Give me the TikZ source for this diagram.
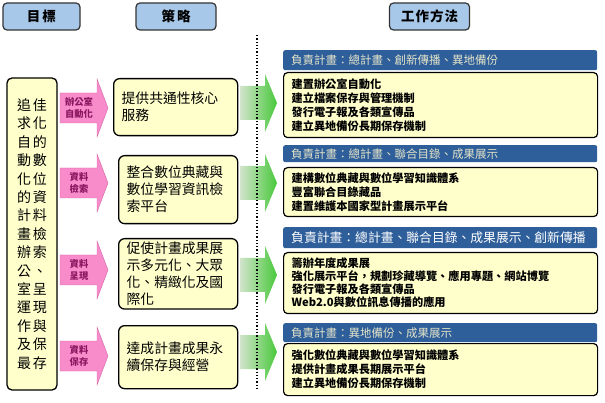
\documentclass[tikz,border=0pt]{standalone}
\usepackage{fontspec}
\setmainfont{Noto Sans CJK TC}

\definecolor{hdrblue}{HTML}{A8C8EA}
\definecolor{paleyellow}{HTML}{FFFFCC}
\definecolor{pinkfill}{HTML}{F88CCB}
\definecolor{pinkline}{HTML}{D465A6}
\definecolor{pinktext}{HTML}{8A1660}
\definecolor{barblue}{HTML}{2F5F9B}
\definecolor{barfg}{HTML}{E4E4C8}
\definecolor{greenpale}{HTML}{D2E4CC}
\definecolor{greendark}{HTML}{48C83A}

\begin{document}
\begin{tikzpicture}[x=1pt,y=-1pt,
    hdr/.style={draw=black!80, line width=1.2pt, rounded corners=4pt, fill=hdrblue,
        minimum height=27pt, font=\fontsize{13.5}{15}\selectfont\bfseries},
    goalbox/.style={draw=black, line width=1.3pt, rounded corners=5pt, fill=paleyellow,
        minimum width=50pt, minimum height=312pt, align=center,
        font=\fontsize{14}{18.4}\selectfont},
    stratbox/.style={draw=black, line width=1.3pt, rounded corners=6pt, fill=paleyellow,
        anchor=north west, align=left, inner xsep=8pt,
        font=\fontsize{13.8}{17}\selectfont},
    pinklabel/.style={text=pinktext, align=center, inner sep=0pt,
        font=\fontsize{9.3}{12}\selectfont\bfseries},
    planbar/.style={fill=barblue, rounded corners=2pt, anchor=north west,
        text width=298pt, inner xsep=8pt, inner ysep=0pt, align=left, text=barfg,
        font=\fontsize{11.5}{13}\selectfont},
    taskbox/.style={draw=black, line width=1.2pt, rounded corners=4pt, fill=paleyellow,
        anchor=north west, text width=298pt, inner xsep=8pt, inner ysep=0pt, align=left,
        font=\fontsize{11.2}{14}\selectfont\bfseries},
]
    \useasboundingbox (0,0) rectangle (605,403);

    % Headers
    \node[hdr, minimum width=77pt] (goalhdr) at (41.5,16.5) {目\hspace{2pt}標};
    \node[hdr, minimum width=80pt] (strathdr) at (176,16.5) {策\hspace{2pt}略};
    \node[hdr, minimum width=80pt] (workhdr) at (429.5,16.5) {工\hspace{1pt}作\hspace{1pt}方\hspace{1pt}法};

    % Goal
    \node[goalbox] (goal) at (32,234) {追\hspace{2pt}佳\\求\hspace{2pt}化\\自\hspace{2pt}的\\動\hspace{2pt}數\\化\hspace{2pt}位\\的\hspace{2pt}資\\計\hspace{2pt}料\\畫\hspace{2pt}檢\\辦\hspace{2pt}索\\公\hspace{2pt}、\\室\hspace{2pt}呈\\運\hspace{2pt}現\\作\hspace{2pt}與\\及\hspace{2pt}保\\最\hspace{2pt}存};

    % Pink arrows
    \foreach \y/\lbl [count=\i] in {108/{辦公室\\自動化}, 183/{資料\\檢索}, 270/{資料\\呈現}, 356/{資料\\保存}}{
        \filldraw[fill=pinkfill, draw=pinkline, thin] (60,\y-15) -- (97,\y-15) -- (97,\y-29) -- (108,\y)
            -- (97,\y+29) -- (97,\y+15) -- (60,\y+15) -- cycle;
        \node[pinklabel] (p\i) at (79,\y) {\lbl};
    }

    % Strategies
    \node[stratbox, text width=108pt, minimum height=57pt] (s1) at (113,78) {提供共通性核心\\服務};
    \node[stratbox, text width=103pt, minimum height=68pt] (s2) at (118,155) {整合數位典藏與\\數位學習資訊檢\\索平台};
    \node[stratbox, text width=103pt, minimum height=69pt] (s3) at (118,238) {促使計畫成果展\\示多元化、大眾\\化、精緻化及國\\際化};
    \node[stratbox, text width=103pt, minimum height=63pt] (s4) at (118,325) {達成計畫成果永\\續保存與經營};

    % Green arrows
    \foreach \y in {103,183,275,352}
        \shade[left color=greenpale, right color=greendark] (240,\y-17) -- (265,\y-17) -- (265,\y-29)
            -- (277,\y) -- (265,\y+29) -- (265,\y+17) -- (240,\y+17) -- cycle;

    % Divider
    \draw[line width=1.3pt, dotted] (257,35) -- (257,390);

    % Work panels
    \node[planbar, minimum height=20pt] (bar1) at (283,50) {負責計畫：總計畫、創新傳播、異地備份};
    \node[taskbox, minimum height=65pt] (t1) at (283,72) {建置辦公室自動化\\建立檔案保存與管理機制\\發行電子報及各類宣傳品\\建立異地備份長期保存機制};

    \node[planbar, minimum height=17pt] (bar2) at (283,145) {負責計畫：總計畫、聯合目錄、成果展示};
    \node[taskbox, minimum height=49pt] (t2) at (283,167) {建構數位典藏與數位學習知識體系\\豐富聯合目錄藏品\\建置維護本國家型計畫展示平台};

    \node[planbar, minimum height=21pt, text=white, font=\fontsize{12.8}{14}\selectfont] (bar3) at (283,227) {負責計畫：總計畫、聯合目錄、成果展示、創新傳播};
    \node[taskbox, minimum height=61pt, font=\fontsize{11.2}{13}\selectfont\bfseries] (t3) at (283,252) {籌辦年度成果展\\強化展示平台，規劃珍藏導覽、應用專題、網站博覽\\發行電子報及各類宣傳品\\Web2.0與數位訊息傳播的應用};

    \node[planbar, minimum height=19pt] (bar4) at (283,323) {負責計畫：異地備份、成果展示};
    \node[taskbox, minimum height=52pt] (t4) at (283,343) {強化數位典藏與數位學習知識體系\\提供計畫成果長期展示平台\\建立異地備份長期保存機制};

\end{tikzpicture}
\end{document}
